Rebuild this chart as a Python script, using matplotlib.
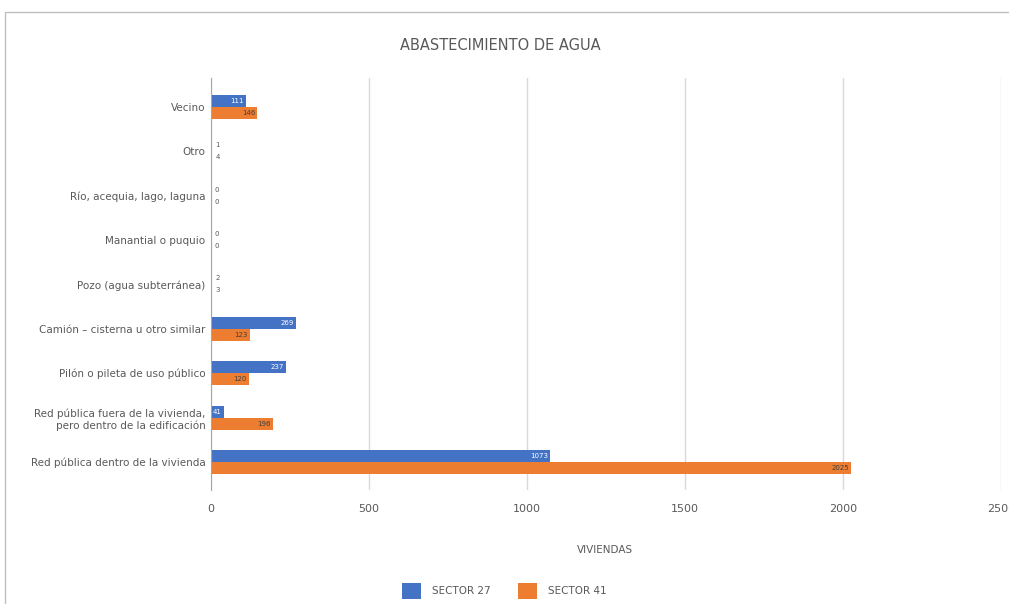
import numpy as np
from matplotlib import pyplot as plt
from matplotlib.patches import Rectangle

categorias = [
    "Vecino",
    "Otro",
    "Río, acequia, lago, laguna",
    "Manantial o puquio",
    "Pozo (agua subterránea)",
    "Camión – cisterna u otro similar",
    "Pilón o pileta de uso público",
    "Red pública fuera de la vivienda,\npero dentro de la edificación",
    "Red pública dentro de la vivienda",
]
sector_27 = [111, 1, 0, 0, 2, 269, 237, 41, 1073]
sector_41 = [146, 4, 0, 0, 3, 123, 120, 196, 2025]
x_ticks = [0, 500, 1000, 1500, 2000, 2500]

AZUL = "#4472C4"
NARANJA = "#ED7D31"
GRIS = "#595959"

fig = plt.figure(figsize=(10.09, 6.04), dpi=100)
fig.patches.append(Rectangle((5 / 1009, -0.1), 1.2, 1 - 12 / 604 + 0.1,
                             transform=fig.transFigure, fill=False,
                             edgecolor="#BFBFBF", linewidth=1.0))

ax = fig.add_axes([211 / 1009, 1 - 490 / 604, 790 / 1009, 412 / 604])

y = np.arange(len(categorias))
h = 0.27
ax.barh(y - h / 2, sector_27, height=h, color=AZUL, label="SECTOR 27", zorder=3)
ax.barh(y + h / 2, sector_41, height=h, color=NARANJA, label="SECTOR 41", zorder=3)

for i, (a, b) in enumerate(zip(sector_27, sector_41)):
    if a > 30:
        ax.text(a - 6, i - h / 2, str(a), ha="right", va="center",
                fontsize=5, color="white", zorder=4)
    else:
        ax.text(a + 12, i - h / 2, str(a), ha="left", va="center",
                fontsize=5, color=GRIS, zorder=4)
    if b > 30:
        ax.text(b - 6, i + h / 2, str(b), ha="right", va="center",
                fontsize=5, color="#404040", zorder=4)
    else:
        ax.text(b + 12, i + h / 2, str(b), ha="left", va="center",
                fontsize=5, color=GRIS, zorder=4)

ax.set_xlim(0, 2500)
ax.set_ylim(len(categorias) - 0.37, -0.65)
ax.set_xticks(x_ticks)
ax.set_xticklabels([str(t) for t in x_ticks])
ax.set_yticks(y)
ax.set_yticklabels(categorias, fontsize=7.5, color=GRIS)
ax.tick_params(axis="x", labelsize=8, colors=GRIS, length=0, pad=10)
ax.tick_params(axis="y", length=0, pad=4)
ax.xaxis.grid(True, color="#D9D9D9", linewidth=1.0, zorder=0)
for s in ["top", "right", "bottom"]:
    ax.spines[s].set_visible(False)
ax.spines["left"].set_color("#A6A6A6")
ax.spines["left"].set_zorder(5)

fig.text(500 / 1009, 1 - 45 / 604, "ABASTECIMIENTO DE AGUA", ha="center", va="center",
         fontsize=10.5, color=GRIS)
fig.text(605 / 1009, 1 - 550 / 604, "VIVIENDAS", ha="center", va="center",
         fontsize=7.5, color=GRIS)

fig.legend(loc="center", bbox_to_anchor=(504 / 1009, 1 - 591 / 604), ncol=2,
           frameon=False, fontsize=7.5, handlelength=1.9, handleheight=1.9,
           handletextpad=1.0, columnspacing=2.6, labelcolor=GRIS)

fig.savefig("out.png", dpi=100)
